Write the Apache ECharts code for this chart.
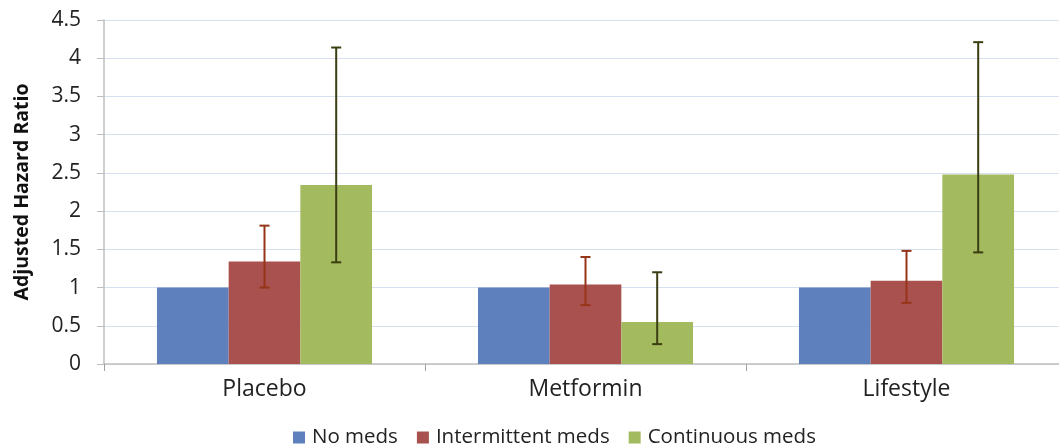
<!DOCTYPE html>
<html>
<head>
<meta charset="utf-8">
<script src="https://cdn.jsdelivr.net/npm/echarts@6/dist/echarts.min.js"></script>
<style>html,body{margin:0;padding:0;background:#fff;}#c{width:1059px;height:446px;}</style>
</head>
<body>
<div id="c"></div>
<script>
const categories = ['Placebo', 'Metformin', 'Lifestyle'];
const noMeds = [1.0, 1.0, 1.0];
const intermittent = [1.34, 1.04, 1.09];
const continuous = [2.34, 0.55, 2.48];
const intermittentLow = [1.0, 0.77, 0.80];
const intermittentHigh = [1.81, 1.40, 1.48];
const continuousLow = [1.33, 0.26, 1.46];
const continuousHigh = [4.14, 1.20, 4.21];
const yTicks = [0, 0.5, 1, 1.5, 2, 2.5, 3, 3.5, 4, 4.5];

const FONT = 'Open Sans';
const GAP = 0.33;

function errData(lo, hi) { return categories.map((c, i) => [i, lo[i], hi[i]]); }
function errRender(offsetIdx, color) {
  return function (params, api) {
    const xi = api.value(0);
    const lo = api.coord([xi, api.value(1)]);
    const hi = api.coord([xi, api.value(2)]);
    const band = api.size([1, 0])[0];
    const barW = band * (1 - GAP) / 3;
    const x = lo[0] + offsetIdx * barW;
    const cap = 5;
    const st = { stroke: color, lineWidth: 2 };
    return {
      type: 'group',
      children: [
        { type: 'line', shape: { x1: x, y1: lo[1], x2: x, y2: hi[1] }, style: st },
        { type: 'line', shape: { x1: x - cap, y1: lo[1], x2: x + cap, y2: lo[1] }, style: st },
        { type: 'line', shape: { x1: x - cap, y1: hi[1], x2: x + cap, y2: hi[1] }, style: st }
      ]
    };
  };
}

const chart = echarts.init(document.getElementById('c'));
chart.setOption({
  animation: false,
  textStyle: { fontFamily: FONT },
  grid: { left: 104, top: 20, height: 344, width: 963, containLabel: false, outerBoundsMode: 'none' },
  legend: {
    data: ['No meds', 'Intermittent meds', 'Continuous meds'],
    top: 422,
    left: 288,
    itemWidth: 12, itemHeight: 12, itemGap: 19,
    icon: 'rect',
    textStyle: { fontSize: 20.5, color: '#222', fontFamily: FONT, padding: [0, 0, 0, 2] }
  },
  xAxis: {
    type: 'category',
    data: categories,
    axisLine: { lineStyle: { color: '#bfbfbf', width: 1.5 } },
    axisTick: { show: true, length: 7, lineStyle: { color: '#a0a0a0' } },
    axisLabel: { fontSize: 23, color: '#222', margin: 14, fontFamily: FONT }
  },
  yAxis: {
    type: 'value',
    min: 0, max: 4.5, interval: 0.5,
    name: 'Adjusted Hazard Ratio',
    nameLocation: 'middle',
    nameGap: 72,
    nameRotate: 90,
    nameTextStyle: { fontSize: 19.5, fontWeight: 'bold', color: '#111', fontFamily: FONT },
    axisLine: { show: true, lineStyle: { color: '#bfbfbf', width: 1.5 } },
    axisTick: { show: true, length: 7, lineStyle: { color: '#bfbfbf' } },
    axisLabel: { fontSize: 21, color: '#222', margin: 23, fontFamily: FONT,
      formatter: v => yTicks.includes(v) ? String(v) : '' },
    splitLine: { lineStyle: { color: '#d6e0f0', width: 1.2 } }
  },
  series: [
    { name: 'No meds', type: 'bar', data: noMeds, barGap: '0%', barCategoryGap: '33%', itemStyle: { color: '#5e80bc' } },
    { name: 'Intermittent meds', type: 'bar', data: intermittent, itemStyle: { color: '#a9514f' } },
    { name: 'Continuous meds', type: 'bar', data: continuous, itemStyle: { color: '#a3ba5e' } },
    { name: 'err1', type: 'custom', data: errData(intermittentLow, intermittentHigh),
      encode: { x: 0, y: [1, 2] }, renderItem: errRender(0, '#963418'), z: 5 },
    { name: 'err2', type: 'custom', data: errData(continuousLow, continuousHigh),
      encode: { x: 0, y: [1, 2] }, renderItem: errRender(1, '#3b3d12'), z: 5 }
  ]
});
</script>
</body>
</html>
